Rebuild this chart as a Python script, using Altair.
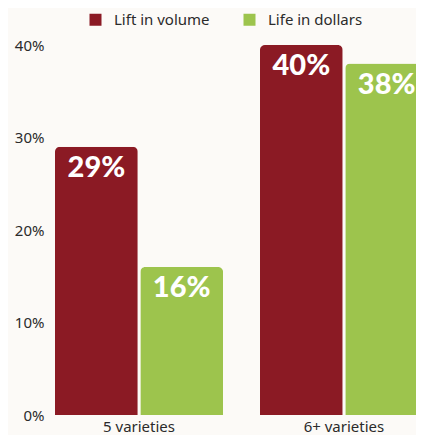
import altair as alt
import pandas as pd

categories = ["5 varieties", "6+ varieties"]
series = ["Lift in volume", "Life in dollars"]
lift_volume = [29, 40]
life_dollars = [16, 38]
y_ticks = [0, 10, 20, 30, 40]
colors = ["#8b1a24", "#9dc44d"]

rows = []
for i, c in enumerate(categories):
    rows.append({"category": c, "series": series[0], "value": lift_volume[i]})
    rows.append({"category": c, "series": series[1], "value": life_dollars[i]})
df = pd.DataFrame(rows)

FONT = "Noto Sans"

x = alt.X("category:N", sort=categories, title=None,
          scale=alt.Scale(range=[0, 373], paddingInner=0.18, paddingOuter=0),
          axis=alt.Axis(labelAngle=0, domain=False, ticks=False, labelFontSize=15,
                        labelColor="#2b2b2b", labelPadding=4, labelFont=FONT))
xo = alt.XOffset("series:N", sort=series, scale=alt.Scale(paddingInner=0.03))
y = alt.Y("value:Q", title=None,
          scale=alt.Scale(domain=[0, 40], nice=False),
          axis=alt.Axis(values=y_ticks, labelExpr="datum.value + '%'", domain=False,
                        ticks=False, grid=False, labelFontSize=15, labelColor="#2b2b2b",
                        labelPadding=11, labelFont=FONT))

bars = alt.Chart(df).mark_bar(cornerRadiusTopLeft=5, cornerRadiusTopRight=5).encode(
    x=x, xOffset=xo, y=y,
    color=alt.Color("series:N", sort=series, scale=alt.Scale(domain=series, range=colors),
                    title=None,
                    legend=alt.Legend(orient="none", legendX=33, legendY=-33, direction="horizontal",
                                      symbolType="square", symbolSize=144, symbolStrokeWidth=0,
                                      labelFontSize=15, labelColor="#2b2b2b", labelFont=FONT,
                                      labelOffset=11, columnPadding=32))
)

labels = alt.Chart(df).transform_calculate(label="datum.value + '%'").mark_text(
    baseline="top", dy=7, color="white", fontSize=29, fontWeight=900, font="Lato"
).encode(x=x, xOffset=xo, y=y, text="label:N")

chart = (bars + labels).properties(
    width=361, height=370,
    autosize=alt.AutoSizeParams(type="none"),
    padding={"left": 47, "top": 37, "right": 0, "bottom": 20},
    background="#fcfaf7",
).configure_view(stroke=None)

chart.save("out.html", embed_options={"renderer": "svg", "actions": False})
